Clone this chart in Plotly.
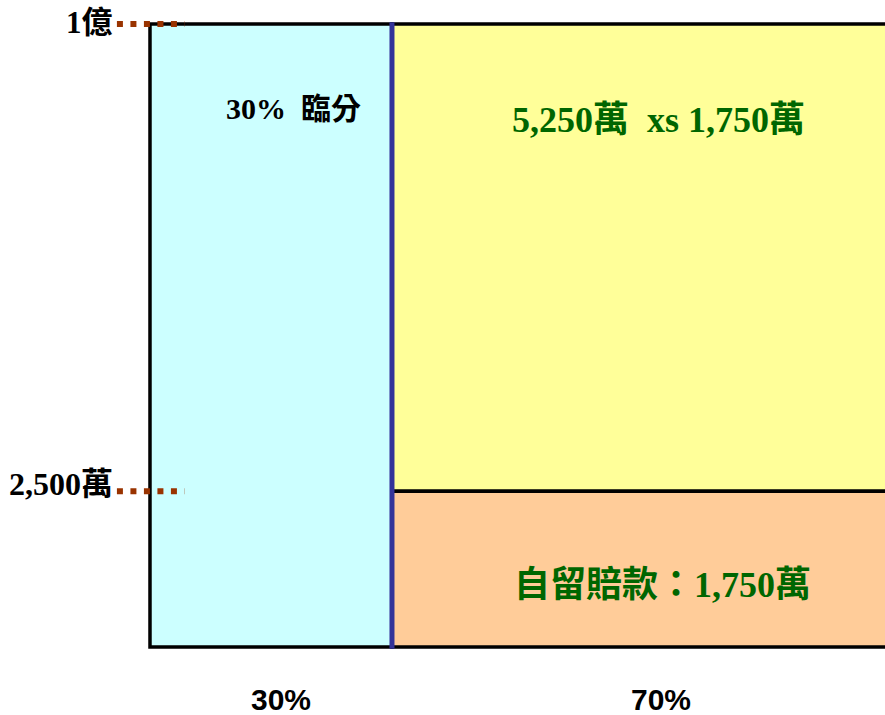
import plotly.graph_objects as go

# ---- data ----
share_labels = ["30%", "70%"]
share_values = [30, 70]            # % share (facultative, retained line)
retention = 2500                   # 萬 (layer boundary)
limit = 10000                      # 萬 (1億)
tick_values = [10000, 2500]
tick_labels = ["1億", "2,500萬"]
fac_text = "30%&nbsp;&nbsp;臨分"
upper_text = "5,250萬&nbsp;&nbsp;xs 1,750萬"
lower_text = "自留賠款：1,750萬"

serif = "Liberation Serif, 'Noto Sans CJK TC', serif"
green = "#006600"

fac, ret = share_values
fig = go.Figure()

# layer blocks as bars on numeric axes
fig.add_trace(go.Bar(
    x=[fac / 2, fac + ret / 2, fac + ret / 2],
    base=[0, retention, 0],
    y=[limit, limit - retention, retention],
    width=[fac, ret, ret],
    marker=dict(color=["#CCFFFF", "#FFFF99", "#FFCC99"],
                line=dict(color="black", width=3.5)),
    hoverinfo="skip", showlegend=False,
))

# blue divider line
fig.add_trace(go.Scatter(
    x=[fac, fac], y=[-30, limit + 30], mode="lines",
    line=dict(color="#333399", width=5), hoverinfo="skip", showlegend=False,
))

# dotted tick marks
for tv in tick_values:
    fig.add_trace(go.Scatter(
        x=[-4.1, 4.3], y=[tv, tv], mode="lines",
        line=dict(color="#993300", width=6, dash="6px,7.5px"),
        hoverinfo="skip", showlegend=False,
    ))

annotations = []
shifts = [2, 7]
sizes = [31, 32]
for tv, tl, sh, sz in zip(tick_values, tick_labels, shifts, sizes):
    annotations.append(dict(
        x=-4.3, y=tv, xref="x", yref="y", text=f"<b>{tl}</b>",
        showarrow=False, xanchor="right", yanchor="middle", yshift=sh,
        font=dict(family=serif, size=sz, color="black"),
    ))

annotations += [
    dict(x=17.8, y=8636, xref="x", yref="y", text=f"<b>{fac_text}</b>",
         showarrow=False, xanchor="center", yanchor="middle",
         font=dict(family=serif, size=30, color="black")),
    dict(x=63.1, y=8459, xref="x", yref="y", text=f"<b>{upper_text}</b>",
         showarrow=False, xanchor="center", yanchor="middle",
         font=dict(family=serif, size=36, color=green)),
    dict(x=63.5, y=995, xref="x", yref="y", text=f"<b>{lower_text}</b>",
         showarrow=False, xanchor="center", yanchor="middle",
         font=dict(family=serif, size=36, color=green)),
]

bottom_x = [16.2, 63.3]
for bx, sl in zip(bottom_x, share_labels):
    annotations.append(dict(
        x=bx, y=-835, xref="x", yref="y", text=f"<b>{sl}</b>",
        showarrow=False, xanchor="center", yanchor="middle",
        font=dict(family="Liberation Sans, Arial, sans-serif", size=30, color="black"),
    ))

fig.update_layout(
    width=885, height=715,
    margin=dict(l=0, r=0, t=0, b=0),
    paper_bgcolor="white", plot_bgcolor="white",
    xaxis=dict(range=[-18.595, 91.12], visible=False, fixedrange=True),
    yaxis=dict(range=[-1091.5, 10385.2], visible=False, fixedrange=True),
    annotations=annotations,
    barmode="overlay",
    showlegend=False,
)

fig.write_html("out.html")
